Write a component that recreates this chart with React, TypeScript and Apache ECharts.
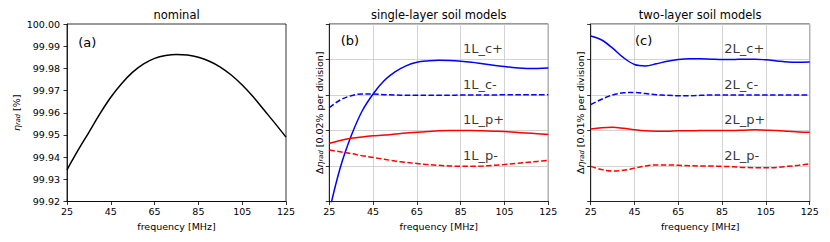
import React, { useEffect, useRef } from "react";
import * as echarts from "echarts";

// ---------- data ----------
const freqs = [25, 30, 35, 40, 45, 50, 55, 60, 65, 70, 75, 80, 85, 90, 95, 100, 105, 110, 115, 120, 125];
const xTickLabels = ["25", "45", "65", "85", "105", "125"];

// panel (a): nominal radiation efficiency [%]
const nominal = [99.9343, 99.943, 99.9512, 99.9595, 99.967, 99.9732, 99.9783, 99.982, 99.9845, 99.9858, 99.9863, 99.986, 99.985, 99.9832, 99.9806, 99.977, 99.9725, 99.9672, 99.9612, 99.9552, 99.949];

// panel (b): single-layer models, in divisions (0..5)
const l1cPlus = [-0.27, 0.95, 1.85, 2.55, 3.03, 3.4, 3.65, 3.82, 3.92, 3.96, 3.98, 3.97, 3.95, 3.92, 3.88, 3.84, 3.8, 3.77, 3.75, 3.75, 3.76];
const l1cMinus = [2.64, 2.86, 2.98, 3.03, 3.03, 3.01, 3.0, 2.99, 2.99, 2.99, 2.99, 2.99, 3.0, 3.0, 3.0, 3.0, 3.01, 3.01, 3.01, 3.01, 3.01];
const l1pPlus = [1.64, 1.72, 1.78, 1.82, 1.85, 1.87, 1.9, 1.93, 1.95, 1.97, 1.99, 2.0, 2.0, 2.0, 1.99, 1.98, 1.97, 1.95, 1.93, 1.91, 1.89];
const l1pMinus = [1.45, 1.4, 1.35, 1.29, 1.24, 1.19, 1.14, 1.1, 1.07, 1.04, 1.02, 1.0, 0.99, 0.99, 1.0, 1.02, 1.04, 1.07, 1.1, 1.13, 1.16];

// panel (c): two-layer models, in divisions (0..5)
const l2cPlus = [4.66, 4.55, 4.32, 4.05, 3.86, 3.82, 3.88, 3.95, 4.0, 4.02, 4.02, 4.01, 4.0, 4.0, 4.01, 4.01, 3.99, 3.96, 3.93, 3.92, 3.93];
const l2cMinus = [2.73, 2.88, 3.0, 3.06, 3.07, 3.04, 3.01, 2.99, 2.98, 2.98, 2.99, 3.0, 3.0, 3.0, 3.0, 3.0, 3.0, 3.0, 3.0, 3.0, 3.0];
const l2pPlus = [2.04, 2.08, 2.09, 2.06, 2.02, 1.99, 1.98, 1.98, 1.99, 1.99, 2.0, 2.0, 2.0, 2.0, 2.01, 2.02, 2.01, 2.0, 1.98, 1.96, 1.95];
const l2pMinus = [0.99, 0.9, 0.86, 0.88, 0.94, 1.0, 1.03, 1.03, 1.02, 1.01, 1.0, 1.0, 0.99, 0.98, 0.96, 0.95, 0.95, 0.96, 0.99, 1.02, 1.06];

const titles = ["nominal", "single-layer soil models", "two-layer soil models"];
const panelLetters = ["(a)", "(b)", "(c)"];
const labelsB = ["1L_c+", "1L_c-", "1L_p+", "1L_p-"];
const labelsC = ["2L_c+", "2L_c-", "2L_p+", "2L_p-"];
const labelLevels = [4, 3, 2, 1];
const labelFreq = 86;

// ---------- styling ----------
const FONT = "DejaVu Sans";
const F0 = 25; // first frequency tick
const GRID_LEFT = [67, 329.3, 590.7];
const GRID_TOP = 24;
const GRID_W = 219;
const GRID_H = 177.5;
const BLUE = "#0000ff";
const RED = "#ff0000";
const DASH = [5.5, 2.4];

function toXY(arr: number[]) {
  return freqs.map((f, i) => [f - F0, arr[i]]);
}

function lineSeries(idx: number, arr: number[], color: string, dashed: boolean) {
  return {
    type: "line",
    xAxisIndex: idx,
    yAxisIndex: idx,
    data: toXY(arr),
    smooth: 0.35,
    showSymbol: false,
    symbol: "none",
    clip: true,
    silent: true,
    lineStyle: { color, width: 1.5, type: dashed ? DASH : "solid" },
    z: 3,
  };
}

function labelSeries(idx: number, names: string[]) {
  return {
    type: "scatter",
    xAxisIndex: idx,
    yAxisIndex: idx,
    symbolSize: 0,
    silent: true,
    data: names.map((n, i) => ({ name: n, value: [labelFreq - F0, labelLevels[i] + 0.12] })),
    label: {
      show: true,
      position: [0, 0],
      align: "left",
      verticalAlign: "bottom",
      formatter: "{b}",
      fontSize: 13,
      fontFamily: FONT,
      color: "#000",
    },
    z: 4,
  };
}

export default function App() {
  const ref = useRef<HTMLDivElement>(null);

  useEffect(() => {
    if (!ref.current) return;
    const chart = echarts.init(ref.current, undefined, { renderer: "svg" });

    const axisLine = { show: true, onZero: false, lineStyle: { color: "#000", width: 0.8 } };
    const axisTick = { show: true, length: 3.5, inside: false, lineStyle: { color: "#000", width: 0.8 } };
    const gridLine = { lineStyle: { color: "#c8c8c8", width: 0.8 } };
    const yNameRich = {
      e: { fontStyle: "italic", fontSize: 9.5, fontFamily: FONT, color: "#000" },
      s: { fontStyle: "italic", fontSize: 6.7, fontFamily: FONT, color: "#000", verticalAlign: "bottom", padding: [3, 0, 0, 0] },
      t: { fontSize: 9.5, fontFamily: FONT, color: "#000" },
    };

    const xAxes = [0, 1, 2].map((i) => ({
      gridIndex: i,
      type: "value",
      min: 0,
      max: 100,
      interval: 20,
      axisLine,
      axisTick,
      axisLabel: {
        color: "#000",
        fontSize: 9.5,
        fontFamily: FONT,
        margin: 5,
        formatter: (v: number) => xTickLabels[Math.round(v / 20)] ?? String(v + F0),
      },
      splitLine: { show: i > 0, ...gridLine },
      name: "frequency [MHz]",
      nameLocation: "middle",
      nameGap: 19,
      nameTextStyle: { color: "#000", fontSize: 9.5, fontFamily: FONT },
    }));

    const yAxes = [
      {
        gridIndex: 0,
        type: "value",
        min: 99.92,
        max: 100,
        interval: 0.01,
        axisLine,
        axisTick,
        axisLabel: {
          color: "#000",
          fontSize: 9.5,
          fontFamily: FONT,
          margin: 7,
          formatter: (v: number) => v.toFixed(2),
        },
        splitLine: { show: false },
        name: "{e|η}{s|rad}{t| [%]}",
        nameLocation: "middle",
        nameRotate: 90,
        nameGap: 46,
        nameTextStyle: { color: "#000", fontSize: 9.5, fontFamily: FONT, rich: yNameRich },
      },
      ...[1, 2].map((i) => ({
        gridIndex: i,
        type: "value",
        min: 0,
        max: 5,
        interval: 1,
        axisLine,
        axisTick,
        axisLabel: { show: false },
        splitLine: { show: true, ...gridLine },
        name: i === 1 ? "{t|Δ}{e|η}{s|rad}{t| [0.02% per division]}" : "{t|Δ}{e|η}{s|rad}{t| [0.01% per division]}",
        nameLocation: "middle",
        nameRotate: 90,
        nameGap: 5,
        nameTextStyle: { color: "#000", fontSize: 9.5, fontFamily: FONT, rich: yNameRich },
      })),
    ];

    const letterPos = [
      [78.3, 42.5],
      [340.7, 40.8],
      [635, 40.8],
    ];

    chart.setOption({
      animation: false,
      backgroundColor: "#ffffff",
      title: titles.map((t, i) => ({
        text: t,
        left: GRID_LEFT[i] + GRID_W / 2,
        textAlign: "center",
        top: 8.5,
        padding: 0,
        textStyle: { color: "#000", fontSize: 11.5, fontWeight: "normal", fontFamily: FONT },
      })),
      grid: [0, 1, 2].map((i) => ({
        left: GRID_LEFT[i],
        top: GRID_TOP,
        width: GRID_W,
        height: GRID_H,
        show: true,
        borderColor: "#000",
        borderWidth: 0.8,
        backgroundColor: "transparent",
        containLabel: false,
      })),
      xAxis: xAxes,
      yAxis: yAxes,
      graphic: panelLetters.map((t, i) => ({
        type: "text",
        x: letterPos[i][0],
        y: letterPos[i][1],
        silent: true,
        style: { text: t, fontSize: 13, fontFamily: FONT, fill: "#000", align: "left", verticalAlign: "middle" },
      })),
      series: [
        {
          type: "line",
          xAxisIndex: 0,
          yAxisIndex: 0,
          data: toXY(nominal),
          smooth: 0.35,
          showSymbol: false,
          symbol: "none",
          silent: true,
          lineStyle: { color: "#000", width: 1.5 },
        },
        lineSeries(1, l1cPlus, BLUE, false),
        lineSeries(1, l1cMinus, BLUE, true),
        lineSeries(1, l1pPlus, RED, false),
        lineSeries(1, l1pMinus, RED, true),
        labelSeries(1, labelsB),
        lineSeries(2, l2cPlus, BLUE, false),
        lineSeries(2, l2cMinus, BLUE, true),
        lineSeries(2, l2pPlus, RED, false),
        lineSeries(2, l2pMinus, RED, true),
        labelSeries(2, labelsC),
      ],
    });

    return () => chart.dispose();
  }, []);

  return (
    <div
      ref={ref}
      style={{ position: "absolute", left: 0, top: 0, width: 830, height: 242, background: "#fff" }}
    />
  );
}
